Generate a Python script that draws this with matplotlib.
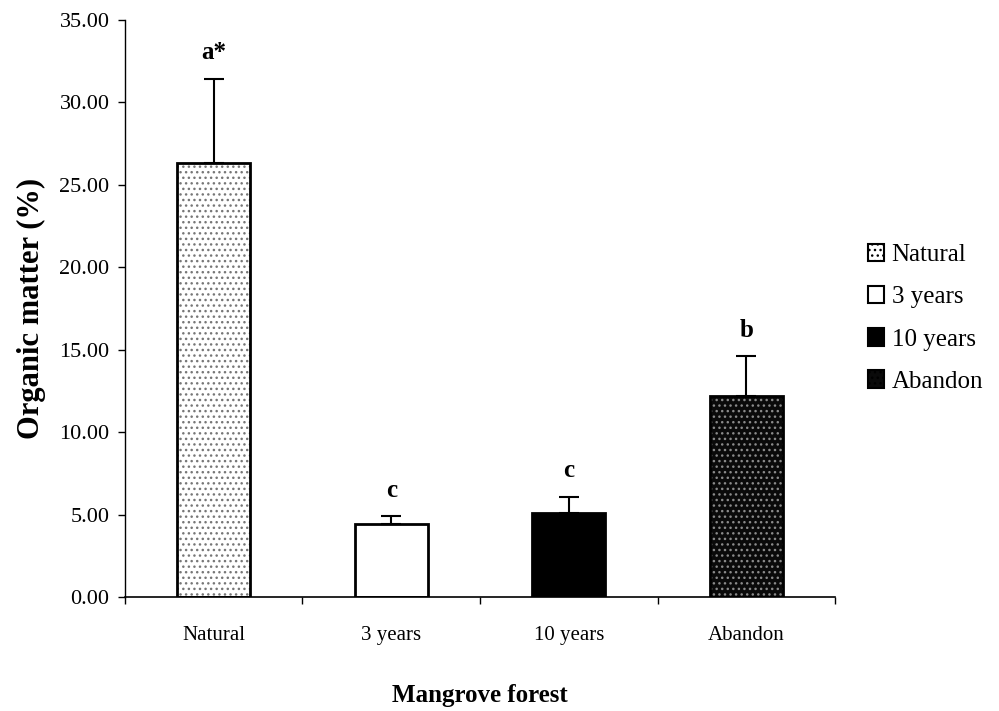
import matplotlib.pyplot as plt
import numpy as np

# data
categories = ["Natural", "3 years", "10 years", "Abandon"]
organic = [26.3, 4.45, 5.1, 12.2]
err_up = [5.1, 0.45, 1.0, 2.4]
letters = ["a*", "c", "c", "b"]

plt.rcParams['font.family'] = ['Liberation Serif', 'DejaVu Serif']
plt.rcParams['hatch.linewidth'] = 1.0

fig = plt.figure(figsize=(9.99, 7.11), dpi=100)
ax = fig.add_axes([0.125, 0.160, 0.711, 0.812])

x = np.arange(len(categories))
w = 0.41

# fills: (facecolor, hatch, hatch colour)
styles = [("white", "...", "#777777"),
          ("white", None, "white"),
          ("black", None, "black"),
          ("#0a0a0a", "...", "#8a8a8a")]

handles = []
for i, (fc, hatch, hc) in enumerate(styles):
    ax.bar(x[i], organic[i], width=w, color=fc, hatch=hatch, edgecolor=hc,
           linewidth=0, zorder=2)
    ax.bar(x[i], organic[i], width=w, fill=False, edgecolor="black",
           linewidth=2, zorder=3)
    h = plt.Rectangle((0, 0), 1, 1, facecolor=fc, hatch=hatch, edgecolor="black",
                      linewidth=1.5)
    handles.append(h)

ax.errorbar(x, organic, yerr=[np.zeros(len(x)), err_up], fmt="none",
            ecolor="black", elinewidth=1.5, capsize=7, capthick=1.5, zorder=4)

for i in range(len(x)):
    ax.text(x[i], organic[i] + err_up[i] + 0.9, letters[i], ha="center",
            va="bottom", fontsize=18, fontweight="bold")

ax.set_xlim(-0.5, 3.5)
ax.set_ylim(0, 35)
yt = np.arange(0, 35.1, 5)
ax.set_yticks(yt)
ax.set_yticklabels([f"{v:.2f}" for v in yt], fontsize=16)
ax.set_xticks(x)
ax.set_xticklabels(categories, fontsize=15)
ax.set_xticks(np.arange(-0.5, 3.6, 1), minor=True)
ax.tick_params(axis="x", which="major", length=0, pad=21)
ax.tick_params(axis="x", which="minor", length=5, width=1)
ax.tick_params(axis="y", length=5, width=1, pad=6)

for s in ["top", "right"]:
    ax.spines[s].set_visible(False)
ax.spines["left"].set_linewidth(1)
ax.spines["bottom"].set_linewidth(1.2)

ax.set_ylabel("Organic matter (%)", fontsize=22, fontweight="bold", labelpad=10)
ax.set_xlabel("Mangrove forest", fontsize=18, fontweight="bold", labelpad=28)

ax.legend(handles, categories, loc="upper left", bbox_to_anchor=(1.032, 0.63),
          frameon=False, fontsize=18, handlelength=0.65, handleheight=0.7,
          handletextpad=0.3, labelspacing=0.79, borderaxespad=0)

fig.savefig("out.png", dpi=100)
